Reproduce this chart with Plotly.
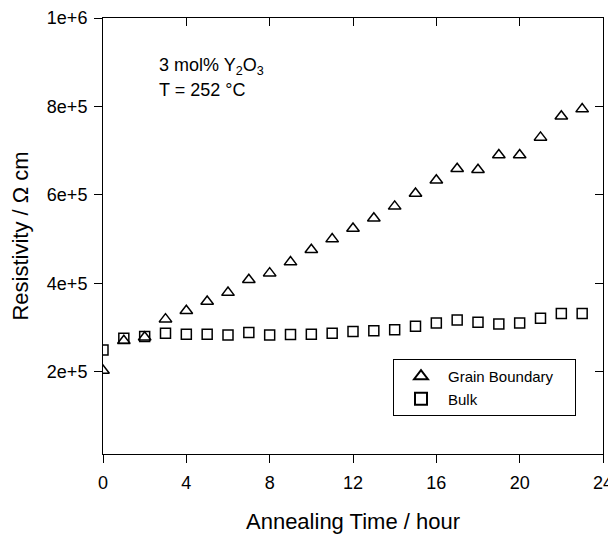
import plotly.graph_objects as go

hours = list(range(24))
grain_boundary = [2.03e5, 2.70e5, 2.78e5, 3.19e5, 3.38e5, 3.59e5, 3.79e5, 4.08e5,
                  4.23e5, 4.48e5, 4.76e5, 5.00e5, 5.24e5, 5.47e5, 5.74e5, 6.03e5,
                  6.33e5, 6.59e5, 6.57e5, 6.90e5, 6.90e5, 7.30e5, 7.78e5, 7.94e5]
bulk = [2.49e5, 2.76e5, 2.80e5, 2.87e5, 2.85e5, 2.85e5, 2.83e5, 2.89e5,
        2.83e5, 2.84e5, 2.85e5, 2.87e5, 2.91e5, 2.93e5, 2.95e5, 3.03e5,
        3.10e5, 3.17e5, 3.12e5, 3.08e5, 3.10e5, 3.21e5, 3.32e5, 3.32e5]

x_ticks = [0, 4, 8, 12, 16, 20, 24]
y_tickvals = [2e5, 4e5, 6e5, 8e5, 1e6]
y_ticktext = ["2e+5", "4e+5", "6e+5", "8e+5", "1e+6"]

FONT = "Liberation Sans, Arial, Helvetica, sans-serif"
PAD = "\u00a0" * 4

fig = go.Figure()
fig.add_trace(go.Scatter(
    x=hours, y=grain_boundary, mode="markers", name="Grain Boundary" + PAD,
    marker=dict(symbol="triangle-up-open", size=11, color="black",
                line=dict(width=1.5, color="black"))))
fig.add_trace(go.Scatter(
    x=hours, y=bulk, mode="markers", name="Bulk",
    marker=dict(symbol="square-open", size=10, color="black",
                line=dict(width=1.5, color="black"))))
# invisible companion trace so the mirrored (top/right) axes are drawn
fig.add_trace(go.Scatter(
    x=hours, y=bulk, mode="markers", xaxis="x2", yaxis="y2",
    marker=dict(opacity=0), showlegend=False, hoverinfo="skip"))

X_RANGE = [0, 24]
Y_RANGE = [1.4e4, 1e6]

# the page body adds an 8px offset, so the figure is 8px smaller and shifted
fig.update_layout(
    width=608, height=526,
    margin=dict(l=95, r=13, t=10, b=80, autoexpand=False),
    paper_bgcolor="white", plot_bgcolor="white",
    font=dict(family=FONT, size=18, color="black"),
    showlegend=True,
    legend=dict(x=0.58, y=0.218, xanchor="left", yanchor="top",
                bgcolor="white", bordercolor="black", borderwidth=1,
                font=dict(size=15), itemsizing="constant", itemwidth=44,
                tracegroupgap=0),
    xaxis=dict(range=X_RANGE, tickvals=x_ticks, ticks="outside", ticklen=8,
               tickcolor="black", showline=True, linecolor="black", linewidth=1,
               showgrid=False, zeroline=False, automargin=False,
               ticklabelstandoff=4,
               title=dict(text="Annealing Time / hour", font=dict(size=22), standoff=22)),
    yaxis=dict(range=Y_RANGE, tickvals=y_tickvals, ticktext=y_ticktext,
               ticks="outside", ticklen=8, tickcolor="black",
               showline=True, linecolor="black", linewidth=1,
               showgrid=False, zeroline=False, automargin=False,
               ticklabelstandoff=3,
               title=dict(text="Resistivity / \u03a9 cm", font=dict(size=22), standoff=12)),
    xaxis2=dict(range=X_RANGE, tickvals=x_ticks, overlaying="x", side="top",
                ticks="inside", ticklen=8, tickcolor="black", showticklabels=False,
                showline=True, linecolor="black", linewidth=1, showgrid=False,
                zeroline=False, automargin=False),
    yaxis2=dict(range=Y_RANGE, tickvals=y_tickvals, overlaying="y", side="right",
                ticks="inside", ticklen=8, tickcolor="black", showticklabels=False,
                showline=True, linecolor="black", linewidth=1, showgrid=False,
                zeroline=False, automargin=False),
)

fig.add_annotation(x=0.107, y=0.889, xref="paper", yref="paper",
                   xanchor="left", yanchor="middle", showarrow=False,
                   text="3 mol% Y<sub>2</sub>O<sub>3</sub>", font=dict(size=18))
fig.add_annotation(x=0.107, y=0.835, xref="paper", yref="paper",
                   xanchor="left", yanchor="middle", showarrow=False,
                   text="T = 252 \u00b0C", font=dict(size=18))

fig.write_html("out.html")
